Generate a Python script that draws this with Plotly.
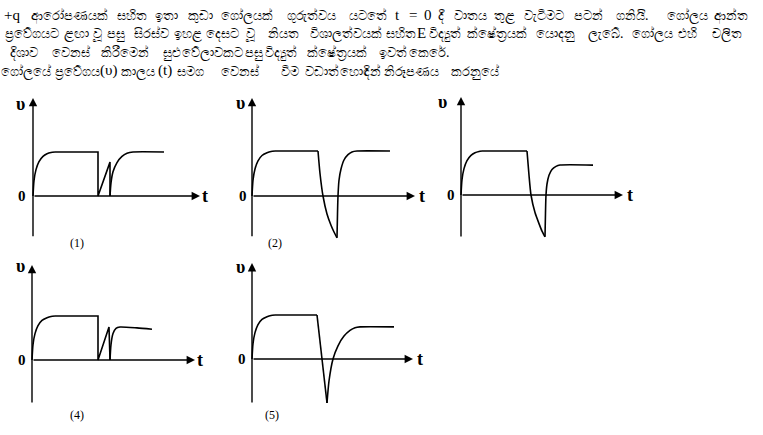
import plotly.graph_objects as go

W, H = 763, 435
OFF = 0  # page margin removed by the post script below
FW, FH = W - OFF, H - OFF

# ---- question text (one list of words per printed line) ----
line1_words = ["+q", "ආරෝපණයක්", "සහිත", "ඉතා", "කුඩා", "ගෝලයක්", "ගුරුත්වය", "යටතේ", "t", "=", "0", "දී",
               "වාතය", "තුළ", "වැටීමට", "පටන්", "ගනියි.", "ගෝලය", "ආන්ත"]
line2_words = ["ප්‍රවේගයට", "ළඟා", "වූ", "පසු", "සිරස්ව", "ඉහළ", "දෙසට", "වූ", "නියත", "විශාලත්වයක්", "සහිත", "E",
               "විද්‍යුත්", "ක්ෂේත්‍රයක්", "යොදනු", "ලැබේ.", "ගෝලය", "එහි", "චලිත"]
line3_words = ["දිශාව", "වෙනස්", "කිරීමෙන්", "සුළු", "වේලාවකට", "පසු", "විද්‍යුත්", "ක්ෂේත්‍රයක්", "ඉවත්", "කෙරේ."]
line4_words = ["ගෝලයේ", "ප්‍රවේගය", "(υ)", "කාලය", "(t)", "සමග", "වෙනස්", "වීම", "වඩාත්", "හොඳින්", "නිරූපණය", "කරනුයේ"]
panel_labels = ["(1)", "(2)", "(3)", "(4)", "(5)"]

# ---- curve data (t, v) for each option; v = 1 is the terminal velocity ----
# option 1
p1_rise_t = [0, 0.1, 0.3, 0.6, 1.0, 1.4, 1.8, 2.2]
p1_rise_v = [0, 0.35, 0.6, 0.78, 0.9, 0.96, 0.99, 1.0]
p1_mid_t = [2.2, 6.5, 6.5, 7.7, 7.7]
p1_mid_v = [1.0, 1.0, 0.0, 0.77, 0.0]
p1_end_t = [7.7, 7.8, 8.0, 8.4, 8.9, 9.4, 10.0, 13.1]
p1_end_v = [0.0, 0.3, 0.55, 0.76, 0.9, 0.97, 1.0, 1.0]

# option 2
p2_rise_t = [0, 0.1, 0.3, 0.6, 1.0, 1.5, 1.9, 2.3]
p2_rise_v = [0, 0.35, 0.6, 0.78, 0.9, 0.96, 0.99, 1.0]
p2_mid_t = [2.3, 6.6]
p2_mid_v = [1.0, 1.0]
p2_dip_t = [6.6, 6.8, 7.1, 7.5, 7.9, 8.2, 8.5]
p2_dip_v = [1.0, 0.5, 0.0, -0.4, -0.65, -0.8, -0.93]
p2_end_t = [8.5, 8.55, 8.6, 8.7, 8.9, 9.2, 9.6, 10.0, 10.5, 13.8]
p2_end_v = [-0.93, -0.4, 0.0, 0.35, 0.6, 0.8, 0.92, 0.98, 1.0, 1.0]

# option 3
p3_rise_t = [0, 0.1, 0.3, 0.6, 1.0, 1.4, 1.8, 2.1]
p3_rise_v = [0, 0.35, 0.6, 0.78, 0.9, 0.96, 0.99, 1.0]
p3_mid_t = [2.1, 6.6]
p3_mid_v = [1.0, 1.0]
p3_dip_t = [6.6, 6.8, 7.0, 7.4, 7.8, 8.1, 8.4]
p3_dip_v = [1.0, 0.45, 0.0, -0.4, -0.65, -0.82, -0.95]
p3_end_t = [8.4, 8.45, 8.5, 8.6, 8.8, 9.1, 9.5, 9.9, 13.2]
p3_end_v = [-0.95, -0.4, 0.0, 0.25, 0.45, 0.58, 0.65, 0.68, 0.68]

# option 4
p4_rise_t = [0, 0.1, 0.3, 0.6, 1.0, 1.5, 1.9, 2.3]
p4_rise_v = [0, 0.35, 0.6, 0.78, 0.9, 0.96, 0.99, 1.0]
p4_mid_t = [2.3, 6.6, 6.6, 7.7, 7.8]
p4_mid_v = [1.0, 1.0, 0.0, 0.75, 0.0]
p4_end_t = [7.8, 7.9, 8.1, 8.4, 8.8, 10.5, 12.0]
p4_end_v = [0.0, 0.35, 0.6, 0.72, 0.75, 0.73, 0.70]

# option 5
p5_rise_t = [0, 0.1, 0.3, 0.6, 1.0, 1.5, 1.9, 2.3]
p5_rise_v = [0, 0.35, 0.6, 0.78, 0.9, 0.96, 0.99, 1.0]
p5_mid_t = [2.3, 6.5]
p5_mid_v = [1.0, 1.0]
p5_dip_t = [6.5, 7.0, 7.5]
p5_dip_v = [1.0, 0.0, -1.0]
p5_end_t = [7.5, 7.7, 8.1, 8.6, 9.2, 9.8, 10.3, 10.8, 14.2]
p5_end_v = [-1.0, -0.5, 0.0, 0.3, 0.52, 0.65, 0.71, 0.73, 0.73]

panels = [
    [(p1_rise_t, p1_rise_v, "spline"), (p1_mid_t, p1_mid_v, "linear"), (p1_end_t, p1_end_v, "spline")],
    [(p2_rise_t, p2_rise_v, "spline"), (p2_mid_t, p2_mid_v, "linear"), (p2_dip_t, p2_dip_v, "spline"), (p2_end_t, p2_end_v, "spline")],
    [(p3_rise_t, p3_rise_v, "spline"), (p3_mid_t, p3_mid_v, "linear"), (p3_dip_t, p3_dip_v, "spline"), (p3_end_t, p3_end_v, "spline")],
    [(p4_rise_t, p4_rise_v, "spline"), (p4_mid_t, p4_mid_v, "linear"), (p4_end_t, p4_end_v, "spline")],
    [(p5_rise_t, p5_rise_v, "spline"), (p5_mid_t, p5_mid_v, "linear"), (p5_dip_t, p5_dip_v, "linear"), (p5_end_t, p5_end_v, "spline")],
]

# axis extents in data units (v top, v bottom, t arrow end)
axis_top = [2.23, 2.18, 2.23, 2.16, 2.18]
axis_bottom = [-0.95, -0.93, -0.98, -1.0, -1.02]
axis_tend = [16.7, 16.3, 16.2, 16.3, 16.1]

# ---- layout geometry ----
origins = [(33, 196, 44), (252, 196, 45), (461, 195, 44), (32, 360, 44), (252, 359, 44)]
SX = 10.0
XR = (-2.0, 18.5)
YR = (-1.4, 2.5)
ups_pos = [(-1.3, 2.09), (-1.2, 2.07), (-1.9, 2.11), (-1.2, 2.14), (-1.2, 2.09)]
zero_pos = [(-1.1, 0), (-0.9, 0), (-1.0, 0), (-1.0, 0), (-1.0, 0)]
t_pos = [(17.2, 0), (17.0, 0), (16.9, 0), (16.8, 0), (16.8, 0)]
num_pos = [(4.4, -1.07), (2.3, -1.04), (-2.4, -1.11), (4.5, -1.25), (2.0, -1.27)]

# word centre positions (px) for the justified text lines, and line centres
line1_x = [12, 69, 132, 166, 200, 247, 311, 368, 398, 413, 428, 441, 470, 504, 544, 588, 632, 687, 731]
line2_x = [32, 76, 97, 116, 151, 188, 222, 250, 283, 346, 401, 421, 445, 497, 555, 605, 652, 687, 727]
line3_x = [24, 71, 125, 172, 212, 254, 281, 337, 393, 429]
line4_x = [26, 77, 108, 138, 165, 190, 240, 290, 322, 360, 411, 475]
line_y = [15, 33, 52, 71]


def px_x(p):
    return min(max((p - OFF) / FW, 0.0), 1.0)


def px_y(p):
    return min(max(1 - (p - OFF) / FH, 0.0), 1.0)


fig = go.Figure()
annotations = []
layout_axes = {}
serif = "Liberation Serif, DejaVu Serif, serif"
sans = "Noto Sans, DejaVu Sans, sans-serif"

for i, segs in enumerate(panels):
    k = i + 1
    xa = "x" if k == 1 else f"x{k}"
    ya = "y" if k == 1 else f"y{k}"
    ox, oy, sy = origins[i]
    xd = [px_x(ox + XR[0] * SX), px_x(ox + XR[1] * SX)]
    yd = [px_y(oy - YR[0] * sy), px_y(oy - YR[1] * sy)]
    axkw = dict(visible=False, fixedrange=True)
    layout_axes["xaxis" if k == 1 else f"xaxis{k}"] = dict(domain=xd, range=list(XR), anchor=ya, **axkw)
    layout_axes["yaxis" if k == 1 else f"yaxis{k}"] = dict(domain=yd, range=list(YR), anchor=xa, **axkw)
    for (tt, vv, shape) in segs:
        fig.add_trace(go.Scatter(
            x=tt, y=vv, mode="lines", xaxis=xa, yaxis=ya, showlegend=False,
            line=dict(color="black", width=1.6, shape=shape, smoothing=0.6),
            hoverinfo="skip", cliponaxis=False))
    annotations.append(dict(x=0, y=axis_top[i], ax=0, ay=axis_bottom[i], xref=xa, yref=ya,
                            axref=xa, ayref=ya, showarrow=True, arrowhead=2, arrowsize=1.2,
                            arrowwidth=1.4, arrowcolor="black", text=""))
    annotations.append(dict(x=axis_tend[i], y=0, ax=0, ay=0, xref=xa, yref=ya,
                            axref=xa, ayref=ya, showarrow=True, arrowhead=2, arrowsize=1.2,
                            arrowwidth=1.4, arrowcolor="black", text=""))
    annotations.append(dict(x=ups_pos[i][0], y=ups_pos[i][1], xref=xa, yref=ya, text="<b>υ</b>",
                            showarrow=False, font=dict(family=serif, size=18, color="black")))
    annotations.append(dict(x=zero_pos[i][0], y=zero_pos[i][1], xref=xa, yref=ya, text="<b>0</b>",
                            showarrow=False, font=dict(family=serif, size=15, color="black")))
    annotations.append(dict(x=t_pos[i][0], y=t_pos[i][1], xref=xa, yref=ya, text="<b>t</b>",
                            showarrow=False, font=dict(family=serif, size=18, color="black")))
    annotations.append(dict(x=num_pos[i][0], y=num_pos[i][1], xref=xa, yref=ya, text=panel_labels[i],
                            showarrow=False, font=dict(family=serif, size=12, color="black")))

latin_tokens = {"+q", "t", "=", "0", "E", "(υ)", "(t)"}
for words, xs, py in zip([line1_words, line2_words, line3_words, line4_words],
                         [line1_x, line2_x, line3_x, line4_x], line_y):
    for w, x in zip(words, xs):
        is_latin = w in latin_tokens
        annotations.append(dict(x=px_x(x), y=px_y(py), xref="paper", yref="paper", xanchor="center",
                                yanchor="middle", text=w, showarrow=False,
                                font=dict(family=serif if is_latin else sans,
                                          size=15 if is_latin else 13, color="black")))

fig.update_layout(width=FW, height=FH, margin=dict(l=0, r=0, t=0, b=0),
                  paper_bgcolor="white", plot_bgcolor="rgba(0,0,0,0)",
                  annotations=annotations, **layout_axes)

fig.write_html("out.html", config={"displayModeBar": False},
               post_script="document.body.style.margin='0px';")
